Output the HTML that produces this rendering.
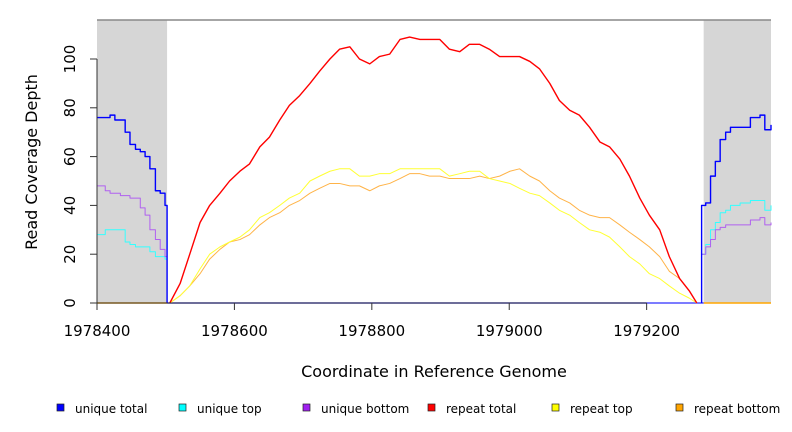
<!DOCTYPE html>
<html><head><meta charset="utf-8"><style>
body{margin:0;background:#fff;font-family:"DejaVu Sans","Liberation Sans",sans-serif}
svg{display:block;font-family:"DejaVu Sans","Liberation Sans",sans-serif}
</style></head><body>
<svg id="chart" width="792" height="432" xmlns="http://www.w3.org/2000/svg"></svg>
<script>
const xTicks=[1978400,1978600,1978800,1979000,1979200];
const yTicks=[0,20,40,60,80,100];
const grayRegions=[[1978400,1978502],[1979283,1979381]];
const leftCoords=[1978400,1978412,1978419,1978426,1978434,1978441,1978448,1978456,1978463,1978470,1978477,1978485,1978492,1978499,1978502];
const uniqueTotalLeft=[76,76,77,75,75,70,65,63,62,60,55,46,45,40,40];
const uniqueTopLeft=[28,30,30,30,30,25,24,23,23,23,21,19,19,18,18];
const uniqueBottomLeft=[48,46,45,45,44,44,43,43,39,36,30,26,22,19,19];
const rightCoords=[1979280,1979286,1979293,1979300,1979307,1979315,1979322,1979336,1979351,1979365,1979372,1979381];
const uniqueTotalRight=[40,41,52,58,67,70,72,72,76,77,71,73];
const uniqueTopRight=[20,24,30,33,37,38,40,41,42,42,38,40];
const uniqueBottomRight=[20,23,26,30,31,32,32,32,34,35,32,33];
const midCoords=[1978506,1978521,1978535,1978550,1978564,1978579,1978593,1978608,1978622,1978637,1978651,1978666,1978680,1978695,1978710,1978724,1978739,1978753,1978768,1978782,1978797,1978811,1978826,1978841,1978855,1978870,1978884,1978899,1978913,1978928,1978942,1978957,1978971,1978986,1979001,1979015,1979030,1979044,1979059,1979073,1979088,1979102,1979117,1979132,1979146,1979161,1979175,1979190,1979204,1979219,1979233,1979248,1979262,1979273];
const repeatTotal=[0,8,20,33,40,45,50,54,57,64,68,75,81,85,90,95,100,104,105,100,98,101,102,108,109,108,108,108,104,103,106,106,104,101,101,101,99,96,90,83,79,77,72,66,64,59,52,43,36,30,19,10,5,0];
const repeatTop=[0,3,7,14,20,23,25,27,30,35,37,40,43,45,50,52,54,55,55,52,52,53,53,55,55,55,55,55,52,53,54,54,51,50,49,47,45,44,41,38,36,33,30,29,27,23,19,16,12,10,7,4,2,0];
const repeatBottom=[0,3,7,12,18,22,25,26,28,32,35,37,40,42,45,47,49,49,48,48,46,48,49,51,53,53,52,52,51,51,51,52,51,52,54,55,52,50,46,43,41,38,36,35,35,32,29,26,23,19,13,10,5,0];
const legendLabels=["unique total","unique top","unique bottom","repeat total","repeat top","repeat bottom"];
const legendColors=["#0000ff","#00ffff","#a020f0","#ff0000","#ffff00","#ffa500"];

const svg=document.getElementById('chart');
const NS="http://www.w3.org/2000/svg";
const X0=97,X1=771,Y0=303,YT=20;
const xMin=1978400,xMax=1979381;
const sx=v=>X0+(v-xMin)*(X1-X0)/(xMax-xMin);
const sy=v=>Y0-v*2.44;
function mk(tag,attrs,parent){const e=document.createElementNS(NS,tag);for(const k in attrs)e.setAttribute(k,attrs[k]);(parent||svg).appendChild(e);return e;}

grayRegions.forEach(r=>{
  const e=mk('rect',{x:sx(r[0]),y:YT,width:sx(r[1])-sx(r[0]),height:Y0-YT,fill:'#d6d6d6'});
  
  
});
const frame=mk('line',{x1:X0,y1:YT,x2:X1,y2:YT,stroke:'#888','stroke-width':1.5});



function stepPath(xs,ys){let d='M'+sx(xs[0])+','+sy(ys[0]);for(let i=1;i<xs.length;i++){d+='H'+sx(xs[i])+'V'+sy(ys[i]);}return d;}
function linPath(xs,ys){let d='M'+sx(xs[0])+','+sy(ys[0]);for(let i=1;i<xs.length;i++){d+='L'+sx(xs[i])+','+sy(ys[i]);}return d;}
function line(d,color,name,w){
  const p=mk('path',{d:d,fill:'none',stroke:color,'stroke-width':w||1.3,'stroke-linejoin':'round'});
  
  
}
const zr=mk('line',{x1:X0,y1:Y0,x2:sx(grayRegions[0][1]),y2:Y0,stroke:'#ffa500','stroke-width':1.5});


const zr2=mk('line',{x1:sx(grayRegions[1][0]),y1:Y0,x2:X1,y2:Y0,stroke:'#ffa500','stroke-width':1.5});


const zu=mk('line',{x1:sx(grayRegions[0][1]),y1:Y0,x2:sx(grayRegions[1][0]),y2:Y0,stroke:'#5050ff','stroke-width':1.5});



line(linPath(midCoords,repeatBottom),'#ffb347','repeat-bottom-line',1);
line(linPath(midCoords,repeatTop),'#ffff33','repeat-top-line',1);
line(linPath(midCoords,repeatTotal),'#ff0000','repeat-total-line',1.4);
line(stepPath(leftCoords,uniqueTopLeft),'#33ffff','unique-top-left',1);
line(stepPath(leftCoords,uniqueBottomLeft),'#b060f0','unique-bottom-left',1);
line(stepPath(leftCoords.concat([leftCoords[leftCoords.length-1]]),uniqueTotalLeft.concat([0])),'#0000ff','unique-total-left',1.4);
line(stepPath(rightCoords,uniqueTopRight),'#33ffff','unique-top-right',1);
line(stepPath(rightCoords,uniqueBottomRight),'#b060f0','unique-bottom-right',1);
line(stepPath([rightCoords[0]].concat(rightCoords),[0].concat(uniqueTotalRight)),'#0000ff','unique-total-right',1.4);

const ya=mk('line',{x1:X0,y1:sy(0),x2:X0,y2:sy(100),stroke:'#333'});


yTicks.forEach(t=>{
  const tk=mk('line',{x1:X0-7,y1:sy(t),x2:X0,y2:sy(t),stroke:'#333'});
  
  
  const tx=mk('text',{x:75,y:sy(t),'font-size':15,'text-anchor':'middle',transform:`rotate(-90 75 ${sy(t)})`});
  tx.textContent=t;
  
  
});
const xa=mk('line',{x1:sx(xTicks[0]),y1:Y0,x2:sx(xTicks[xTicks.length-1]),y2:Y0,stroke:'#333'});


xTicks.forEach(t=>{
  const tk=mk('line',{x1:sx(t),y1:Y0,x2:sx(t),y2:Y0+7,stroke:'#333'});
  
  
  const tx=mk('text',{x:sx(t),y:336,'font-size':15,'text-anchor':'middle'});
  tx.textContent=t;
  
  
});
const xt=mk('text',{x:434,y:377,'font-size':16,'text-anchor':'middle'});
xt.textContent='Coordinate in Reference Genome';


const yt=mk('text',{x:37,y:162,'font-size':16,'text-anchor':'middle',transform:'rotate(-90 37 162)'});
yt.textContent='Read Coverage Depth';


const lx=[57,179,303,428,552,676];
legendLabels.forEach((l,i)=>{
  const g=mk('g',{});
  
  
  mk('rect',{x:lx[i],y:404,width:7,height:7,fill:legendColors[i],stroke:'#222','stroke-width':0.7},g);
  const t=mk('text',{x:lx[i]+18,y:413,'font-size':12},g);
  t.textContent=l;
});
</script>
</body></html>
